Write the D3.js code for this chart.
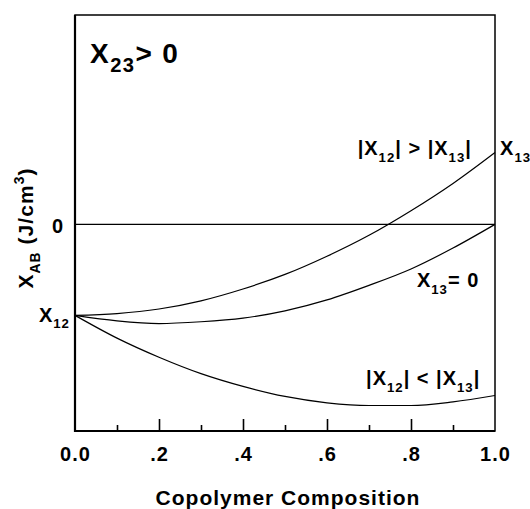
<!DOCTYPE html>
<html>
<head>
<meta charset="utf-8">
<script src="https://cdn.jsdelivr.net/npm/d3@7"></script>
<style>
  html, body { margin: 0; padding: 0; background: #fff; }
  svg { display: block; font-family: "Liberation Sans", Arial, sans-serif; }
</style>
</head>
<body>
<div id="chart"></div>
<script>
// copolymer composition (x axis)
const composition = [0, 0.1, 0.2, 0.3, 0.4, 0.5, 0.6, 0.7, 0.8, 0.9, 1.0];
// X_AB, in units of |X12| (X12 = -1)
const chiStrong = [-1, -0.98, -0.93, -0.84, -0.71, -0.55, -0.35, -0.12, 0.15, 0.45, 0.79]; // |X12| > |X13|
const chiZero   = [-1, -1.06, -1.09, -1.07, -1.03, -0.95, -0.83, -0.67, -0.49, -0.26, 0];  // X13 = 0
const chiWeak   = [-1, -1.25, -1.46, -1.64, -1.78, -1.89, -1.96, -1.99, -1.99, -1.95, -1.88]; // |X12| < |X13|

const majorTicks = [0.2, 0.4, 0.6, 0.8];
const minorTicks = [0.1, 0.3, 0.5, 0.7, 0.9];
const tickLabels = [0, 0.2, 0.4, 0.6, 0.8, 1.0];

const width = 530, height = 509;
const x = d3.scaleLinear().domain([0, 1]).range([75, 495]);
const y = d3.scaleLinear().domain([-2.27, 2.3]).range([431, 15]);

const svg = d3.select("#chart").append("svg")
    .attr("width", width)
    .attr("height", height)
    .attr("viewBox", [0, 0, width, height]);

// frame
svg.append("rect")
    .attr("x", x(0)).attr("y", y(2.3))
    .attr("width", x(1) - x(0)).attr("height", y(-2.27) - y(2.3))
    .attr("fill", "none").attr("stroke", "#000").attr("stroke-width", 1.5);
svg.append("path")
    .attr("d", `M${x(0)},${y(2.3)}V${y(-2.27)}H${x(1)}`)
    .attr("fill", "none").attr("stroke", "#000").attr("stroke-width", 2.2);

// x ticks point inwards
const gx = svg.append("g").attr("transform", `translate(0,${y(-2.27)})`);
gx.append("g").call(d3.axisBottom(x).tickValues(minorTicks).tickSize(-6).tickFormat(""));
gx.append("g").call(d3.axisBottom(x).tickValues(majorTicks).tickSize(-12).tickFormat(""));
gx.append("g").call(d3.axisBottom(x).tickValues(tickLabels).tickSize(0).tickPadding(16)
    .tickFormat(d => (d === 0 || d === 1) ? d.toFixed(1) : d.toFixed(1).slice(1)));
gx.selectAll(".domain").remove();
gx.selectAll("line").attr("stroke", "#000").attr("stroke-width", 1.6);
gx.selectAll("text").attr("font-size", 20).attr("font-weight", "bold").attr("letter-spacing", 1)
    .attr("font-family", "Liberation Sans, Arial, sans-serif").attr("fill", "#000");

// y axis: only the zero label
const gy = svg.append("g").attr("transform", `translate(${x(0)},0)`)
    .call(d3.axisLeft(y).tickValues([0]).tickSize(0).tickPadding(12).tickFormat(d3.format("d")));
gy.select(".domain").remove();
gy.selectAll("text").attr("font-size", 20).attr("font-weight", "bold").attr("dy", "0.42em")
    .attr("font-family", "Liberation Sans, Arial, sans-serif").attr("fill", "#000");

// zero line
svg.append("line")
    .attr("x1", x(0)).attr("x2", x(1)).attr("y1", y(0)).attr("y2", y(0))
    .attr("stroke", "#000").attr("stroke-width", 1.2);

// curves
const line = d3.line().x((d, i) => x(composition[i])).y(d => y(d)).curve(d3.curveMonotoneX);
[chiStrong, chiZero, chiWeak].forEach(s => {
    svg.append("path").attr("d", line(s))
        .attr("fill", "none").attr("stroke", "#000").attr("stroke-width", 1.2);
});

// text with subscripts: parts = [[text, "sub"|"sup"|null], ...]
function richText(g, parts, size, weight, anchor, subScale) {
    subScale = subScale || 0.66;
    const t = g.append("text").attr("font-size", size).attr("font-weight", weight)
        .attr("letter-spacing", size * 0.05)
        .attr("text-anchor", anchor || "start").attr("fill", "#000");
    let shift = 0;
    parts.forEach(([s, kind]) => {
        const target = kind === "sub" ? size * 0.32 : kind === "sup" ? -size * 0.45 : 0;
        t.append("tspan").attr("dy", target - shift)
            .attr("font-size", kind ? size * subScale : size).text(s);
        shift = target;
    });
    return t;
}

// annotations [x, y, anchor, size, weight, parts, subScale]
const annotations = [
    [0.036, 1.77, "start", 28, "bold", [["X"], ["23", "sub"], ["> 0"]], 0.72],
    [0.945, 0.76, "end", 20, "bold", [["|X"], ["12", "sub"], ["| > |X"], ["13", "sub"], ["|"]]],
    [1.012, 0.76, "start", 20, "bold", [["X"], ["13", "sub"]]],
    [0.814, -0.69, "start", 20, "bold", [["X"], ["13", "sub"], ["= 0"]]],
    [0.965, -1.77, "end", 20, "bold", [["|X"], ["12", "sub"], ["| < |X"], ["13", "sub"], ["|"]]],
    [-0.012, -1.07, "end", 20, "bold", [["X"], ["12", "sub"]]]
];
annotations.forEach(([ax, ay, anchor, size, weight, parts, subScale]) => {
    const g = svg.append("g").attr("transform", `translate(${x(ax)},${y(ay)})`);
    richText(g, parts, size, weight, anchor, subScale);
});

// axis titles
svg.append("text")
    .attr("x", (x(0) + x(1)) / 2 + 3).attr("y", 505)
    .attr("text-anchor", "middle").attr("font-size", 21).attr("font-weight", "bold")
    .attr("letter-spacing", 1)
    .text("Copolymer Composition");

const gt = svg.append("g").attr("transform", `translate(33,228) rotate(-90)`);
richText(gt, [["X"], ["AB", "sub"], [" (J/cm"], ["3", "sup"], [")"]], 21, "bold", "middle");
</script>
</body>
</html>
